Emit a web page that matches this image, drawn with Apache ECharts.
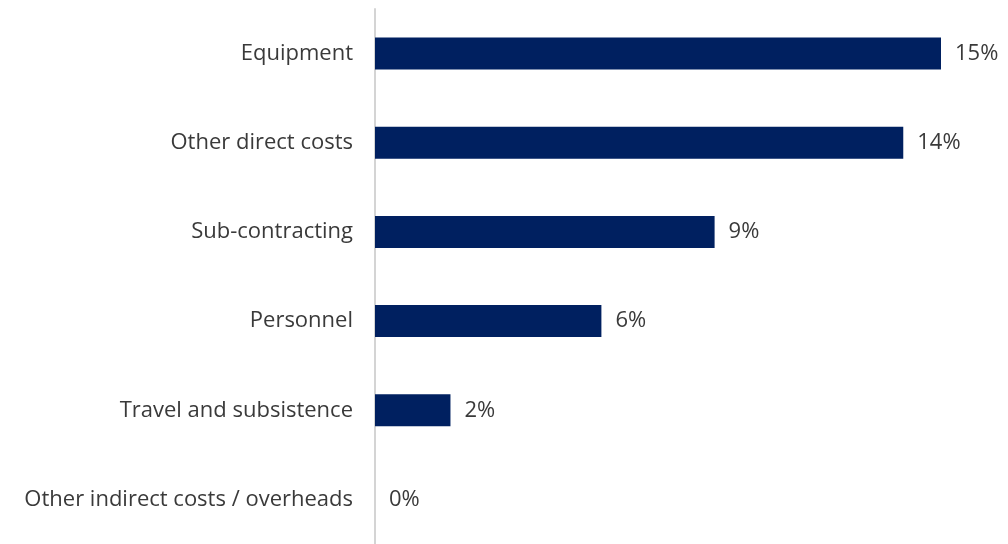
<!DOCTYPE html>
<html>
<head>
<meta charset="utf-8">
<script src="https://cdn.jsdelivr.net/npm/echarts@6/dist/echarts.min.js"></script>
<style>
  html, body { margin: 0; padding: 0; background: #fff; }
  #chart { width: 1008px; height: 544px; }
</style>
</head>
<body>
<div id="chart"></div>
<script>
// Share of budget by cost category (percent)
const categories = [
  'Equipment',
  'Other direct costs',
  'Sub-contracting',
  'Personnel',
  'Travel and subsistence',
  'Other indirect costs / overheads'
];
const shares = [15, 14, 9, 6, 2, 0];

const chart = echarts.init(document.getElementById('chart'), null, { renderer: 'canvas' });
const font = '"Open Sans", Lato, sans-serif';

chart.setOption({
  animation: false,
  grid: { left: 375, top: 9, width: 566, height: 538, containLabel: false },
  xAxis: {
    type: 'value',
    min: 0,
    max: 15,
    show: false
  },
  yAxis: {
    type: 'category',
    data: categories,
    inverse: true,
    axisLine: { show: true, lineStyle: { color: '#d4d4d4', width: 2 } },
    axisTick: { show: false },
    axisLabel: {
      margin: 22,
      color: '#3a3a3a',
      fontFamily: font,
      fontSize: 22
    }
  },
  series: [{
    type: 'bar',
    data: shares,
    barWidth: 32,
    itemStyle: { color: '#002060' },
    label: {
      show: true,
      position: 'right',
      distance: 14,
      formatter: p => p.value + '%',
      color: '#3a3a3a',
      fontFamily: font,
      fontSize: 22
    }
  }]
});
</script>
</body>
</html>
